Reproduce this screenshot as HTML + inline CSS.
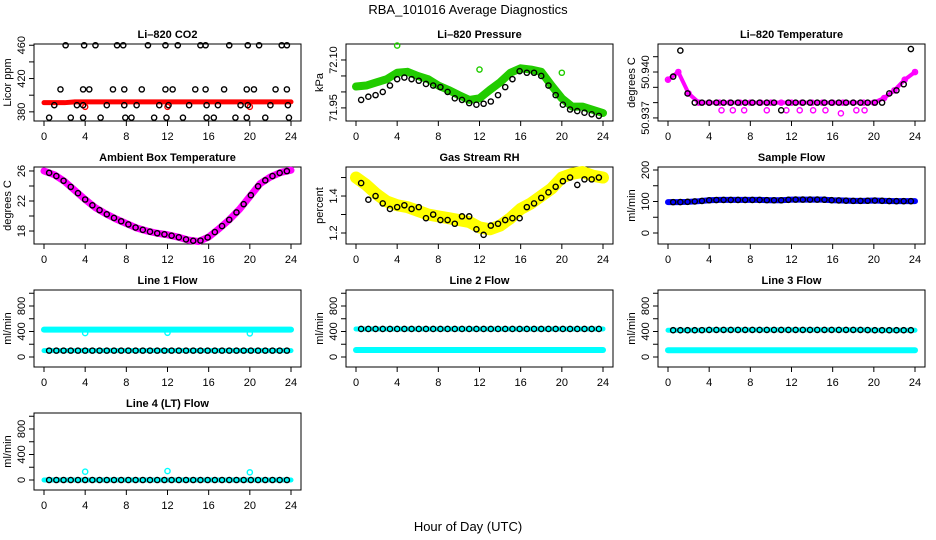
<!DOCTYPE html>
<html><head><meta charset="utf-8"><style>
html,body{margin:0;padding:0;background:#fff}
svg{display:block;font-family:"Liberation Sans",Arial,sans-serif}
</style></head><body>
<svg id="chart" width="936" height="540" viewBox="0 0 936 540" xmlns="http://www.w3.org/2000/svg">
<text x="468" y="14" text-anchor="middle" font-size="13">RBA_101016  Average Diagnostics</text>
<text x="468" y="531" text-anchor="middle" font-size="13">Hour of Day (UTC)</text>
</svg>
<script>
// ---- data ----
const xTicks=[0,4,8,12,16,20,24];
const bandHours=[0,1,2,3,4,5,6,7,8,9,10,11,12,13,14,15,16,17,18,19,20,21,22,23,24];
const ptHours=[0.5,1.2,1.9,2.6,3.3,4,4.7,5.4,6.1,6.8,7.5,8.2,8.9,9.6,10.3,11,11.7,12.4,13.1,13.8,14.5,15.2,15.9,16.6,17.3,18,18.7,19.4,20.1,20.8,21.5,22.2,22.9,23.6];
// CO2
const co2Band=[391,391,391,392,392,392,392,392,392,392,392,392,392,392,392,392,392,392,392,392,392,392,392,392,392];
const co2H460=[2.1,3.9,5.0,7.1,7.7,10.1,11.8,13.0,15.2,15.7,18.0,19.8,20.9,23.1,23.6];
const co2H407=[1.6,3.8,4.4,6.7,7.8,9.5,11.8,12.5,14.7,15.7,17.5,19.7,20.4,22.5,23.6];
const co2H388=[1.0,3.2,3.8,6.1,7.8,9.0,11.2,12.1,14.1,15.8,16.9,19.1,19.8,22.0,23.7];
const co2H373=[0.5,2.6,3.8,5.5,7.9,8.5,10.7,11.9,13.5,15.8,16.5,18.6,19.7,21.5,23.8];
// Pressure
const presBand=[72.017,72.02,72.03,72.04,72.06,72.063,72.05,72.04,72.02,72.006,71.99,71.975,71.98,72.006,72.03,72.06,72.074,72.07,72.063,72.02,71.98,71.954,71.954,71.944,71.934];
const presPts=[71.975,71.985,71.99,72.0,72.02,72.04,72.045,72.04,72.035,72.025,72.02,72.015,72.0,71.98,71.975,71.965,71.96,71.963,71.97,71.99,72.015,72.04,72.065,72.06,72.06,72.05,72.02,71.99,71.96,71.945,71.94,71.935,71.93,71.925];
// Li-820 temperature
const tempBand=[50.9395,50.9400,50.9386,50.9380,50.9380,50.9380,50.9380,50.9380,50.9380,50.9380,50.9380,50.9380,50.9380,50.9380,50.9380,50.9380,50.9380,50.9380,50.9380,50.9380,50.9380,50.9383,50.9388,50.9395,50.9400];
const tempPts=[50.9397,50.9414,50.9386,50.9380,50.9380,50.9380,50.9380,50.9380,50.9380,50.9380,50.9380,50.9380,50.9380,50.9380,50.9380,50.9375,50.9380,50.9380,50.9380,50.9380,50.9380,50.9380,50.9380,50.9380,50.9380,50.9380,50.9380,50.9380,50.9380,50.9380,50.9386,50.9388,50.9392,50.9415];
const tempOutH=[5.2,6.3,7.4,9.6,11.5,12.8,14.1,15.3,16.8,18.3,19.1];
const tempOutV=[50.9375,50.9375,50.9375,50.9375,50.9375,50.9375,50.9375,50.9375,50.9373,50.9375,50.9375];
// Ambient
const ambBand=[26.0,25.5,24.6,23.4,22.2,21.1,20.3,19.6,19.0,18.4,18.0,17.7,17.5,17.2,16.8,16.6,17.2,18.3,19.5,20.9,22.6,24.3,25.2,25.8,26.1];
// RH
const rhBand=[1.50,1.46,1.41,1.37,1.35,1.34,1.32,1.30,1.29,1.28,1.27,1.26,1.23,1.22,1.24,1.28,1.33,1.36,1.40,1.44,1.50,1.52,1.53,1.51,1.50];
const rhPts=[1.47,1.38,1.40,1.36,1.33,1.34,1.35,1.33,1.34,1.28,1.30,1.27,1.27,1.25,1.29,1.29,1.22,1.19,1.24,1.25,1.27,1.28,1.28,1.34,1.36,1.39,1.42,1.45,1.48,1.50,1.46,1.49,1.49,1.50];
// Sample flow
const sampBand=[98,98,99,101,104,105,105,105,105,105,104,104,106,106,106,106,104,103,102,102,103,102,101,101,101];
// Line flows
const l1High=[430,430,430,430,430,430,430,430,430,430,430,430,430,430,430,430,430,430,430,430,430,430,430,430,430];
const l1Low=[100,100,100,100,100,100,100,100,100,100,100,100,100,100,100,100,100,100,100,100,100,100,100,100,100];
const l2High=[440,440,440,440,440,440,440,440,440,440,440,440,440,440,440,440,440,440,440,440,440,440,440,440,440];
const l2Low=[110,110,110,110,110,110,110,110,110,110,110,110,110,110,110,110,110,110,110,110,110,110,110,110,110];
const l3High=[420,420,420,420,425,425,425,425,425,425,425,425,425,425,425,425,425,425,425,425,420,420,420,420,420];
const l3Low=[105,105,105,105,105,105,105,105,105,105,105,105,105,105,105,105,105,105,105,105,105,105,105,105,105];
const l4Base=[0,0,0,0,0,0,0,0,0,0,0,0,0,0,0,0,0,0,0,0,0,0,0,0,0];
const l4OutH=[4,12,20];
const l4OutV=[130,140,120];

// ---- drawing ----
const NS='http://www.w3.org/2000/svg';
const svg=document.getElementById('chart');
const W=267,H=77;
const colX=[34,346,658], rowY=[44,167,290,413];
function el(tag,attrs,parent){const e=document.createElementNS(NS,tag);for(const k in attrs)e.setAttribute(k,attrs[k]);(parent||svg).appendChild(e);return e;}

function panel(c,r,name,title,ylab,ymin,ymax,ticks,labels){
  const L=colX[c],T=rowY[r];
  const g=el('g',{});
  
  
  const p={L,T,g,xs:h=>L+10+h*247/24,ys:v=>T+(ymax-v)/(ymax-ymin)*H};
  const t=el('text',{x:L+W/2,y:T-6,'text-anchor':'middle','font-size':11,'font-weight':'bold'},g);
  t.textContent=title;
  
  
  const box=el('rect',{x:L,y:T,width:W,height:H,fill:'none',stroke:'#000','stroke-width':1},g);
  
  
  xTicks.forEach(h=>{
    const x=p.xs(h);
    const tk=el('line',{x1:x,x2:x,y1:T+H,y2:T+H+5,stroke:'#000'},g);
    
    
    const lb=el('text',{x:x,y:T+H+19,'text-anchor':'middle','font-size':11},g);
    lb.textContent=h;
    
    
  });
  ticks.forEach(v=>{
    const y=p.ys(v);
    const tk=el('line',{x1:L-5,x2:L,y1:y,y2:y,stroke:'#000'},g);
    
    
  });
  labels.forEach(v=>{
    const y=p.ys(v);
    const lb=el('text',{x:0,y:0,'text-anchor':'middle','font-size':11,transform:`translate(${L-9},${y}) rotate(-90)`},g);
    lb.textContent=v;
    
    
  });
  const yl=el('text',{x:0,y:0,'text-anchor':'middle','font-size':11,transform:`translate(${L-23},${T+H/2}) rotate(-90)`},g);
  yl.textContent=ylab;
  
  
  return p;
}
function band(p,hs,vs,color,w,name){
  const pts=hs.map((h,i)=>p.xs(h)+','+p.ys(vs[i])).join(' ');
  const pl=el('polyline',{points:pts,fill:'none',stroke:color,'stroke-width':w,'stroke-linejoin':'round','stroke-linecap':'round'},p.g);
  
  
}
function points(p,hs,vs,color,name){
  hs.forEach((h,i)=>{
    const v=Array.isArray(vs)?vs[i]:vs;
    const c=el('circle',{cx:p.xs(h),cy:p.ys(v),r:2.6,fill:'none',stroke:color,'stroke-width':1.4},p.g);
    
    
  });
}
function interp(hs,vs,h){for(let i=0;i<hs.length-1;i++){if(h<=hs[i+1]){const f=(h-hs[i])/(hs[i+1]-hs[i]);return vs[i]+f*(vs[i+1]-vs[i]);}}return vs[vs.length-1];}
function onBand(vs){return ptHours.map(h=>interp(bandHours,vs,h));}

// CO2
let p=panel(0,0,'co2','Li\u2013820 CO2','Licor ppm',369,461.5,[380,400,420,440,460],[380,420,460]);
band(p,bandHours,co2Band,'#ff0000',5,'co2-red-band');
points(p,[4,12,20],[386,386,386],'#ff0000','co2-red-outlier');
points(p,co2H460,460,'#000','co2-point');
points(p,co2H407,407,'#000','co2-point');
points(p,co2H388,388,'#000','co2-point');
points(p,co2H373,373,'#000','co2-point');
// Pressure
p=panel(1,0,'pressure','Li\u2013820 Pressure','kPa',71.909,72.15,[71.95,72.0,72.05,72.1],['71.95','72.10']);
band(p,bandHours,presBand,'#22cc00',8,'pressure-green-band');
points(p,bandHours,presBand,'#22cc00','pressure-green-point');
points(p,[4,12,20],[72.145,72.07,72.06],'#22cc00','pressure-green-outlier');
points(p,ptHours,presPts,'#000','pressure-point');
// Temperature
p=panel(2,0,'li820-temp','Li\u2013820 Temperature','degrees C',50.9368,50.94183,[50.937,50.938,50.939,50.940,50.941],['50.937','50.940']);
band(p,bandHours,tempBand,'#ff00ff',4,'temp-magenta-band');
points(p,bandHours,tempBand,'#ff00ff','temp-magenta-point');
points(p,tempOutH,tempOutV,'#ff00ff','temp-magenta-outlier');
points(p,ptHours,tempPts,'#000','temp-point');
// Ambient
p=panel(0,1,'ambient','Ambient Box Temperature','degrees C',16.27,26.53,[18,20,22,24,26],[18,22,26]);
band(p,bandHours,ambBand,'#ff00ff',7,'ambient-magenta-band');
points(p,ptHours,onBand(ambBand),'#000','ambient-point');
// RH
p=panel(1,1,'rh','Gas Stream RH','percent',1.1405,1.557,[1.2,1.3,1.4,1.5],['1.2','1.4']);
band(p,bandHours,rhBand,'#ffff00',12,'rh-yellow-band');
points(p,bandHours,rhBand,'#ffff00','rh-yellow-point');
points(p,ptHours,rhPts,'#000','rh-point');
// Sample flow
p=panel(2,1,'sample-flow','Sample Flow','ml/min',-34.9,209.5,[0,50,100,150,200],[0,100,200]);
band(p,bandHours,sampBand,'#0000ff',6,'sample-blue-band');
points(p,ptHours,onBand(sampBand),'#000','sample-point');
// Line 1
p=panel(0,2,'line1','Line 1 Flow','ml/min',-157,1051,[0,200,400,600,800,1000],[0,400,800]);
band(p,bandHours,l1High,'#00ffff',6,'line1-cyan-high');
band(p,bandHours,l1Low,'#00ffff',5,'line1-cyan-low');
points(p,[4,12,20],[375,380,370],'#00ffff','line1-cyan-outlier');
points(p,ptHours,onBand(l1Low),'#000','line1-point');
// Line 2
p=panel(1,2,'line2','Line 2 Flow','ml/min',-157,1051,[0,200,400,600,800,1000],[0,400,800]);
band(p,bandHours,l2High,'#00ffff',5,'line2-cyan-high');
band(p,bandHours,l2Low,'#00ffff',6,'line2-cyan-low');
points(p,ptHours,onBand(l2High),'#000','line2-point');
// Line 3
p=panel(2,2,'line3','Line 3 Flow','ml/min',-157,1051,[0,200,400,600,800,1000],[0,400,800]);
band(p,bandHours,l3High,'#00ffff',5,'line3-cyan-high');
band(p,bandHours,l3Low,'#00ffff',6,'line3-cyan-low');
points(p,ptHours,onBand(l3High),'#000','line3-point');
// Line 4
p=panel(0,3,'line4','Line 4 (LT) Flow','ml/min',-157,1051,[0,200,400,600,800,1000],[0,400,800]);
band(p,bandHours,l4Base,'#00ffff',5,'line4-cyan-band');
points(p,l4OutH,l4OutV,'#00ffff','line4-cyan-outlier');
points(p,ptHours,onBand(l4Base),'#000','line4-point');
</script>
</body></html>
